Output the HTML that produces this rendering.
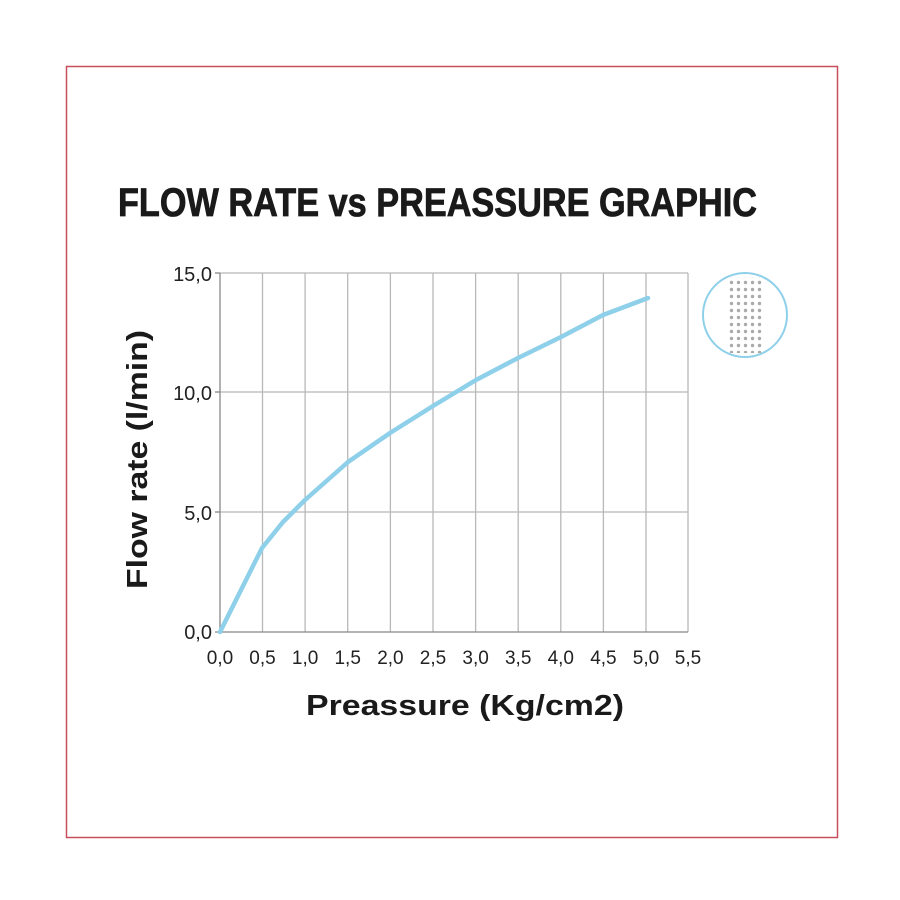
<!DOCTYPE html>
<html><head><style>body{margin:0;background:#fff}svg{display:block}</style></head><body>
<svg width="900" height="900" viewBox="0 0 900 900" xmlns="http://www.w3.org/2000/svg" font-family="Liberation Sans, DejaVu Sans, sans-serif">
<rect x="0" y="0" width="900" height="900" fill="#fff"/>
<rect x="66.5" y="66.5" width="771" height="771" fill="none" stroke="#c8505a" stroke-width="1.5"/>
<text x="118" y="216" font-size="40" font-weight="bold" fill="#1a1a1a" stroke="#1a1a1a" stroke-width="0.8" textLength="639" lengthAdjust="spacingAndGlyphs">FLOW RATE vs PREASSURE GRAPHIC</text>
<g stroke="#b8b8b8" stroke-width="1.3">
<line x1="262.5" y1="273" x2="262.5" y2="632"/><line x1="305.1" y1="273" x2="305.1" y2="632"/>
<line x1="347.7" y1="273" x2="347.7" y2="632"/><line x1="390.4" y1="273" x2="390.4" y2="632"/>
<line x1="433" y1="273" x2="433" y2="632"/><line x1="475.6" y1="273" x2="475.6" y2="632"/>
<line x1="518.2" y1="273" x2="518.2" y2="632"/><line x1="560.8" y1="273" x2="560.8" y2="632"/>
<line x1="603.4" y1="273" x2="603.4" y2="632"/><line x1="646" y1="273" x2="646" y2="632"/>
<line x1="688" y1="273" x2="688" y2="632"/>
<line x1="220" y1="273" x2="688" y2="273"/><line x1="220" y1="392" x2="688" y2="392"/>
<line x1="220" y1="512" x2="688" y2="512"/>
</g>
<g stroke="#888" stroke-width="1.3">
<line x1="220" y1="273" x2="220" y2="633"/><line x1="215" y1="632" x2="688" y2="632"/>
<line x1="215" y1="273" x2="220" y2="273"/><line x1="215" y1="392" x2="220" y2="392"/><line x1="215" y1="512" x2="220" y2="512"/>
</g>
<g font-size="20" fill="#222" text-anchor="end">
<text x="212" y="281">15,0</text><text x="212" y="400">10,0</text><text x="212" y="520">5,0</text><text x="212" y="639">0,0</text>
</g>
<g font-size="19" fill="#222" text-anchor="middle">
<text x="220" y="664">0,0</text><text x="262.5" y="664">0,5</text><text x="305.1" y="664">1,0</text><text x="347.7" y="664">1,5</text><text x="390.4" y="664">2,0</text><text x="433" y="664">2,5</text><text x="475.6" y="664">3,0</text><text x="518.2" y="664">3,5</text><text x="560.8" y="664">4,0</text><text x="603.4" y="664">4,5</text><text x="646" y="664">5,0</text><text x="688" y="664">5,5</text>
</g>
<text x="306" y="715" font-size="29" font-weight="bold" fill="#1a1a1a" textLength="318" lengthAdjust="spacingAndGlyphs">Preassure (Kg/cm2)</text>
<text transform="translate(147,589) rotate(-90)" font-size="29" font-weight="bold" fill="#1a1a1a" textLength="259" lengthAdjust="spacingAndGlyphs">Flow rate (l/min)</text>
<polyline fill="none" stroke="#8ed0ea" stroke-width="4.5" stroke-linecap="round" stroke-linejoin="round"
 points="220,632 262,548 283,522 305,500 348,462 390,433 433,406 476,380 518,358 561,337 603,315 648,298"/>
<defs><pattern id="dots" x="728" y="279" width="7" height="7" patternUnits="userSpaceOnUse"><circle cx="3.5" cy="3.5" r="1.7" fill="#aaa"/></pattern></defs>
<circle cx="745" cy="315" r="42" fill="#fff" stroke="#8ed0ea" stroke-width="2"/>
<rect x="728" y="277" width="34" height="76" fill="url(#dots)"/>
</svg>
</body></html>
